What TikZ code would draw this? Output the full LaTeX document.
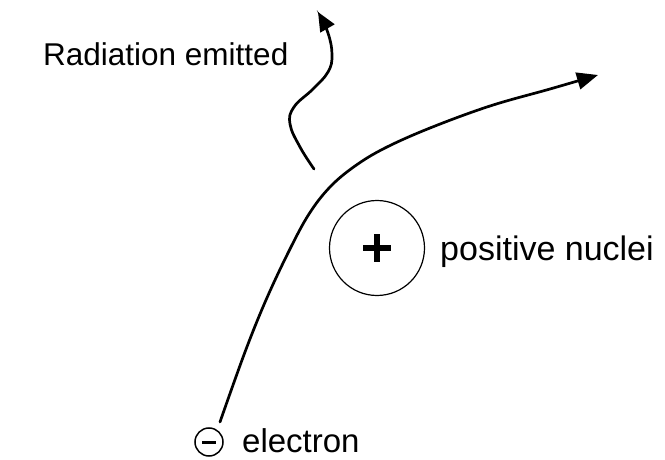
\documentclass[tikz,border=0pt]{standalone}
\usepackage{fontspec}
\setmainfont{Liberation Sans}
\usetikzlibrary{arrows.meta}
\begin{document}
\begin{tikzpicture}[x=1pt,y=-1pt,
  path/.style={line width=2.7pt, line cap=round, -{Triangle[length=21pt,width=17pt]}},
  lbl/.style={anchor=base west, inner sep=0pt}]
\useasboundingbox[fill=white] (0,0) rectangle (665,460);
% electron trajectory
\draw[path] plot[smooth, tension=0.6] coordinates {(220,422) (245,352) (266,300) (289,251) (309,214) (330,187) (355,166) (385,148) (430,128) (490,106) (550,89) (598,75)};
% radiation
\draw[path, -{Triangle[length=19pt,width=16pt]}] plot[smooth, tension=0.7] coordinates {(314,169) (300,147) (290,124) (294,107) (313,89) (328,72) (332,55) (328,33) (318,12)};
% nucleus
\node[circle, draw, line width=1.2pt, minimum size=95pt, inner sep=0pt] (nuc) at (377,248) {};
\draw[line width=6.5pt] (363,248) -- (391,248);
\draw[line width=6.5pt] (377,234) -- (377,262);
% electron symbol
\node[circle, draw, line width=1.5pt, minimum size=28pt, inner sep=0pt] (el) at (209,442) {};
\draw[line width=3pt] (202,442) -- (216,442);
% labels
\node[lbl, font=\fontsize{31.5}{36}\selectfont] (rad) at (43,66) {Radiation emitted};
\node[lbl, font=\fontsize{34}{40}\selectfont] (pn) at (440,260) {positive nuclei};
\node[lbl, font=\fontsize{33}{38}\selectfont] (et) at (242,452) {electron};
\end{tikzpicture}
\end{document}
